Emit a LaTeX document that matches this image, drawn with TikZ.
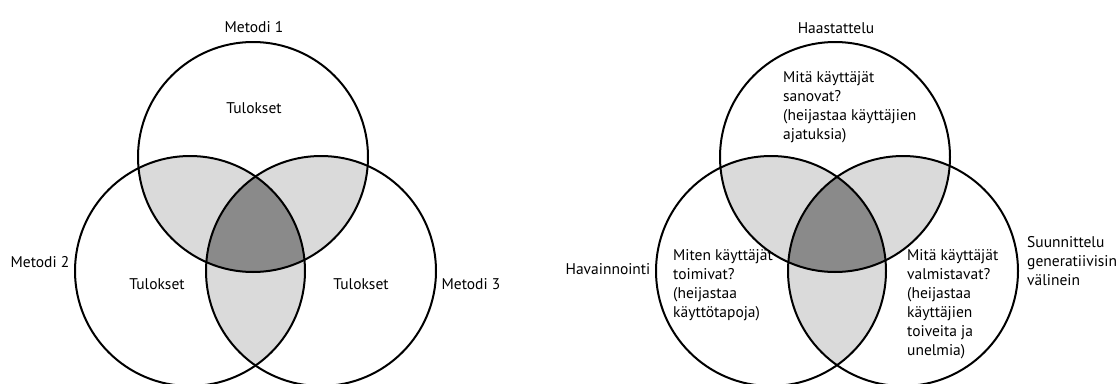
\documentclass[tikz,border=0pt]{standalone}
\usepackage{fontspec}
\setmainfont{PT Sans}
\definecolor{lightsh}{HTML}{DADADA}
\definecolor{darksh}{HTML}{8A8A8A}
\begin{document}
\begin{tikzpicture}[x=1pt,y=-1pt,
  lbl/.style={font=\fontsize{15.5}{19}\selectfont, inner sep=0pt, text=black},
  blk/.style={lbl, align=left, anchor=north west},
  ring/.style={line width=2pt, draw=black}]
\useasboundingbox (0,0) rectangle (1119,383);
\def\R{115pt}
% left diagram
\coordinate (lA) at (253,157);
\coordinate (lB) at (190,271);
\coordinate (lC) at (321,271);
% right diagram
\coordinate (rA) at (835,157);
\coordinate (rB) at (771,271);
\coordinate (rC) at (903,271);
\foreach \p in {l,r}{
  \begin{scope}
    \clip (\p A) circle[radius=\R];
    \fill[lightsh] (\p B) circle[radius=\R];
    \fill[lightsh] (\p C) circle[radius=\R];
  \end{scope}
  \begin{scope}
    \clip (\p B) circle[radius=\R];
    \fill[lightsh] (\p C) circle[radius=\R];
  \end{scope}
  \begin{scope}
    \clip (\p A) circle[radius=\R];
    \clip (\p B) circle[radius=\R];
    \fill[darksh] (\p C) circle[radius=\R];
  \end{scope}
  \draw[ring] (\p A) circle[radius=\R];
  \draw[ring] (\p B) circle[radius=\R];
  \draw[ring] (\p C) circle[radius=\R];
}
% left labels
\node[lbl] (m1) at (254,27) {Metodi 1};
\node[lbl] (t1) at (254,108) {Tulokset};
\node[lbl] (m2) at (40,262) {Metodi 2};
\node[lbl] (t2) at (157,284) {Tulokset};
\node[lbl] (t3) at (361,284) {Tulokset};
\node[lbl] (m3) at (471,284) {Metodi 3};
% right labels
\node[lbl] (h1) at (836,28) {Haastattelu};
\node[lbl] (h2) at (608,269) {Havainnointi};
\node[blk] (b1) at (783,71) {Mitä käyttäjät\\sanovat?\\(heijastaa käyttäjien\\ajatuksia)};
\node[blk] (b2) at (673,249) {Miten käyttäjät\\toimivat?\\(heijastaa\\käyttötapoja)};
\node[blk] (b3) at (907,249) {Mitä käyttäjät\\valmistavat?\\(heijastaa\\käyttäjien\\toiveita ja\\unelmia)};
\node[blk] (b4) at (1027,236) {Suunnittelu\\generatiivisin\\välinein};
\end{tikzpicture}
\end{document}
